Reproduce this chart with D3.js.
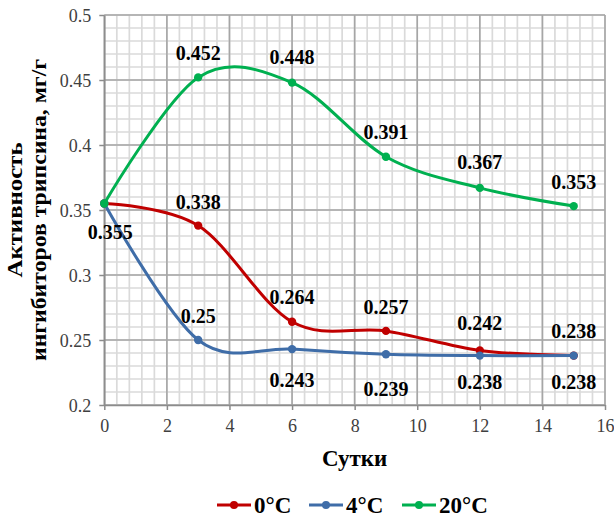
<!DOCTYPE html>
<html><head><meta charset="utf-8">
<script src="https://cdn.jsdelivr.net/npm/d3@7"></script>
<style>body{margin:0;background:#fff}svg{display:block}</style>
</head><body>
<svg id="c" width="614" height="520"></svg>
<script>
const days = [0, 3, 6, 9, 12, 15];
const seriesNames = ["0°C", "4°C", "20°C"];
const values0 = [0.355, 0.338, 0.264, 0.257, 0.242, 0.238];
const values4 = [0.355, 0.25, 0.243, 0.239, 0.238, 0.238];
const values20 = [0.355, 0.452, 0.448, 0.391, 0.367, 0.353];
const labels0 = ["", "0.338", "0.264", "0.257", "0.242", "0.238"];
const labels4 = ["0.355", "0.25", "0.243", "0.239", "0.238", "0.238"];
const labels20 = ["", "0.452", "0.448", "0.391", "0.367", "0.353"];
const xTicks = [0, 2, 4, 6, 8, 10, 12, 14, 16];
const yTicks = [0.2, 0.25, 0.3, 0.35, 0.4, 0.45, 0.5];
const xTitle = "Сутки";
const yTitle = ["Активность", "ингибиторов трипсина, мг/г"];

// label offsets (layout): [dx, dy of label centre relative to point]
const off0 = [[0,0],[0,-23],[0,-25],[0,-24],[0,-27],[0,-24]];
const off4 = [[6,29],[0,-24],[0,31],[0,35],[0,27],[0,27]];
const off20 = [[0,0],[0,-24],[0,-25],[0,-25],[0,-26],[0,-24]];

const colors = ["#C00000", "#3F6DA8", "#00B050"];

const svg = d3.select("#c");
const L = 104.3, R = 605, T = 15, B = 405;
const x = d3.scaleLinear().domain([0, 16]).range([L, R]);
const y = d3.scaleLinear().domain([0.2, 0.5]).range([B, T]);

// minor grid
const g = svg.append("g");
g.selectAll(".mx").data(d3.range(0, 16.01, 0.4)).join("line")
  .attr("x1", d => x(d)).attr("x2", d => x(d)).attr("y1", T).attr("y2", B)
  .attr("stroke", "#dadada").attr("stroke-width", 1.7);
g.selectAll(".my").data(d3.range(0.2, 0.5001, 0.01)).join("line")
  .attr("y1", d => y(d)).attr("y2", d => y(d)).attr("x1", L).attr("x2", R)
  .attr("stroke", "#dadada").attr("stroke-width", 1.7);
// major grid
g.selectAll(".Mx").data(xTicks).join("line")
  .attr("x1", d => x(d)).attr("x2", d => x(d)).attr("y1", T).attr("y2", B)
  .attr("stroke", "#a6a6a6").attr("stroke-width", 1.6);
g.selectAll(".My").data(yTicks).join("line")
  .attr("y1", d => y(d)).attr("y2", d => y(d)).attr("x1", L).attr("x2", R)
  .attr("stroke", "#a6a6a6").attr("stroke-width", 1.6);

// axes
const xa = svg.append("g").attr("transform", `translate(0,${B})`)
  .call(d3.axisBottom(x).tickValues(xTicks).tickFormat(d3.format("d")).tickSize(5).tickSizeOuter(0));
const ya = svg.append("g").attr("transform", `translate(${L},0)`)
  .call(d3.axisLeft(y).tickValues(yTicks).tickFormat(d => String(d)).tickSize(5).tickSizeOuter(0));
[xa, ya].forEach(a => {
  a.select(".domain").attr("stroke", "#8c8c8c").attr("stroke-width", 1.5);
  a.selectAll(".tick line").attr("stroke", "#8c8c8c").attr("stroke-width", 1.5);
  a.selectAll("text").attr("font-family", "'Liberation Serif', 'Times New Roman', serif")
    .attr("font-size", 18).attr("fill", "#404040");
});
xa.selectAll("text").attr("dy", null).attr("y", 27);
ya.selectAll("text").attr("x", -13).attr("dy", "0.34em");

// series
const series = [
  {name: seriesNames[0], vals: values0, labels: labels0, off: off0, color: colors[0]},
  {name: seriesNames[1], vals: values4, labels: labels4, off: off4, color: colors[1]},
  {name: seriesNames[2], vals: values20, labels: labels20, off: off20, color: colors[2]},
];
const line = d3.line().x(d => x(d[0])).y(d => y(d[1])).curve(d3.curveCardinal.tension(0));
series.forEach(s => {
  const pts = days.map((d, i) => [d, s.vals[i]]);
  svg.append("path").attr("d", line(pts)).attr("fill", "none")
    .attr("stroke", s.color).attr("stroke-width", 3).attr("stroke-linejoin", "round");
  svg.append("g").selectAll("circle").data(pts).join("circle")
    .attr("cx", d => x(d[0])).attr("cy", d => y(d[1])).attr("r", 4.2).attr("fill", s.color);
});
series.forEach(s => {
  svg.append("g").selectAll("text").data(days.map((d, i) => [d, s.vals[i], s.labels[i], s.off[i]]))
    .join("text")
    .attr("x", d => x(d[0]) + d[3][0]).attr("y", d => y(d[1]) + d[3][1]).attr("dy", "0.34em")
    .attr("text-anchor", "middle")
    .attr("font-family", "'Liberation Serif', 'Times New Roman', serif")
    .attr("font-weight", "bold").attr("font-size", 20).attr("fill", "#000")
    .text(d => d[2]);
});

// titles
svg.append("text").attr("x", (L + R) / 2).attr("y", 466).attr("text-anchor", "middle")
  .attr("font-family", "'Liberation Serif', 'Times New Roman', serif")
  .attr("font-weight", "bold").attr("font-size", 23).text(xTitle);
const yt = svg.append("text").attr("transform", `translate(22,${(T + B) / 2}) rotate(-90)`)
  .attr("text-anchor", "middle")
  .attr("font-family", "'Liberation Serif', 'Times New Roman', serif")
  .attr("font-weight", "bold").attr("font-size", 20);
yt.append("tspan").attr("x", 0).attr("y", 0).attr("textLength", 135).attr("lengthAdjust", "spacingAndGlyphs").text(yTitle[0]);
yt.append("tspan").attr("x", 0).attr("y", 24).attr("textLength", 302).attr("lengthAdjust", "spacingAndGlyphs").text(yTitle[1]);

// legend
const legX = [217, 309, 402];
const lg = svg.append("g");
series.forEach((s, i) => {
  const gx = legX[i];
  lg.append("line").attr("x1", gx).attr("x2", gx + 34).attr("y1", 505).attr("y2", 505)
    .attr("stroke", s.color).attr("stroke-width", 3);
  lg.append("circle").attr("cx", gx + 17).attr("cy", 505).attr("r", 4).attr("fill", s.color);
  lg.append("text").attr("x", gx + 37).attr("y", 513)
    .attr("font-family", "'Liberation Serif', 'Times New Roman', serif")
    .attr("font-weight", "bold").attr("font-size", 23).text(s.name);
});
</script>
</body></html>
